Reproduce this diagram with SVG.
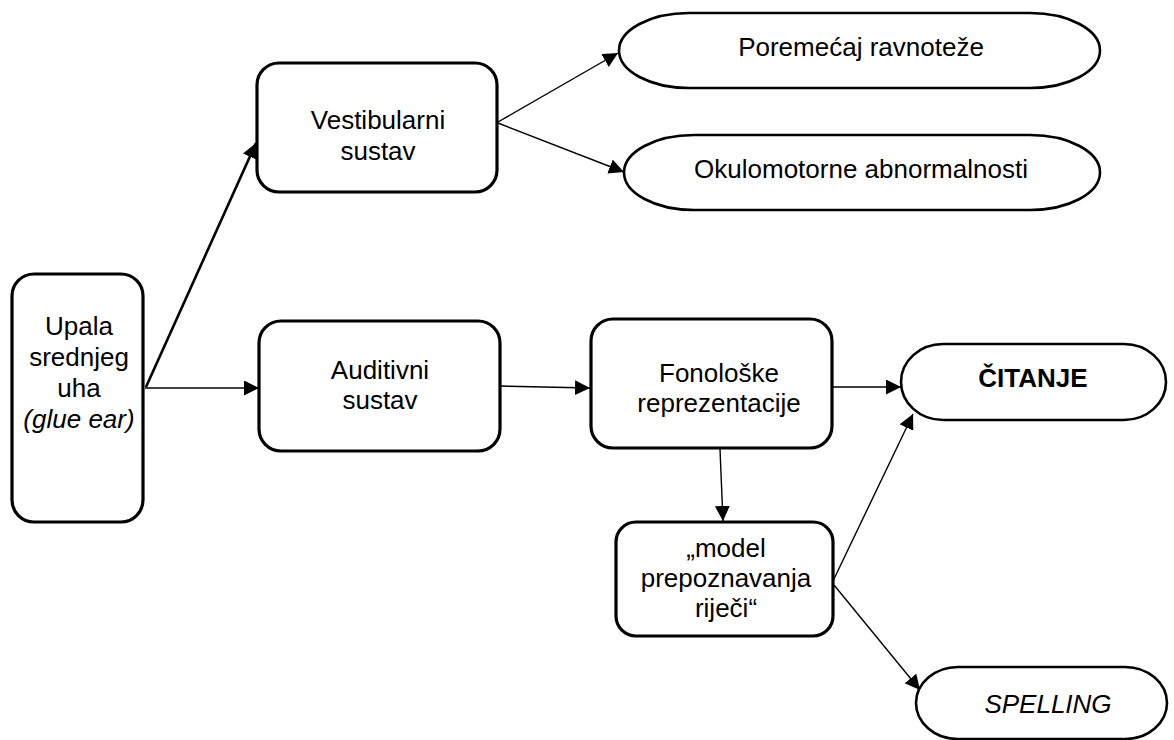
<svg xmlns="http://www.w3.org/2000/svg" width="1174" height="740" viewBox="0 0 1174 740">
<defs>
<style>
.box{fill:#fff;stroke:#000;stroke-width:3.2}
.ell{fill:#fff;stroke:#000;stroke-width:2.6}
.t{font-family:"Liberation Sans",Arial,sans-serif;font-size:26px;fill:#000;text-anchor:middle}
.b{font-weight:bold}
.i{font-style:italic}
.c{fill:none;stroke:#000;stroke-width:1.4;marker-end:url(#ah)}
.thick{stroke-width:2.6}
</style>
<marker id="ah" markerUnits="userSpaceOnUse" markerWidth="16" markerHeight="16" refX="15" refY="7.5" orient="auto" viewBox="0 0 16 16">
<path d="M0,0 L15,7.5 L0,15 z" fill="#000"/>
</marker>
</defs>
<rect width="1174" height="740" fill="#fff"/>
<g id="connectors">
<line class="c thick" x1="146" y1="387" x2="256" y2="143"/>
<line class="c" x1="145" y1="388" x2="259" y2="388"/>
<line class="c" x1="498" y1="122" x2="618" y2="53"/>
<line class="c" x1="498" y1="123" x2="624" y2="172"/>
<line class="c" x1="500" y1="386" x2="590" y2="388"/>
<line class="c" x1="832" y1="387" x2="901" y2="387"/>
<line class="c" x1="720" y1="449" x2="723" y2="521"/>
<line class="c" x1="833" y1="581" x2="913" y2="414"/>
<line class="c" x1="834" y1="585" x2="920" y2="690"/>
</g>
<g id="upala">
<rect class="box" x="12" y="274" width="131" height="248" rx="22"/>
<text class="t" x="79" y="335">Upala</text>
<text class="t" x="79" y="366">srednjeg</text>
<text class="t" x="79" y="397">uha</text>
<text class="t i" x="79" y="428">(glue ear)</text>
</g>
<g id="vestibularni">
<rect class="box" x="257" y="63" width="240" height="129" rx="22"/>
<text class="t" x="378" y="129">Vestibularni</text>
<text class="t" x="378" y="160">sustav</text>
</g>
<g id="ravnoteza">
<rect class="ell" x="619" y="13" width="481" height="75" rx="70" ry="37.5"/>
<text class="t" x="861" y="56">Poremećaj ravnoteže</text>
</g>
<g id="okulomotorne">
<rect class="ell" x="624" y="135" width="476" height="75" rx="70" ry="37.5"/>
<text class="t" x="861" y="178">Okulomotorne abnormalnosti</text>
</g>
<g id="auditivni">
<rect class="box" x="259" y="321" width="241" height="130" rx="22"/>
<text class="t" x="380" y="379">Auditivni</text>
<text class="t" x="380" y="409">sustav</text>
</g>
<g id="fonoloske">
<rect class="box" x="591" y="319" width="241" height="129" rx="22"/>
<text class="t" x="719" y="382">Fonološke</text>
<text class="t" x="719" y="412">reprezentacije</text>
</g>
<g id="citanje">
<rect class="ell" x="901" y="344" width="265" height="76" rx="42" ry="38"/>
<text class="t b" x="1033" y="387">ČITANJE</text>
</g>
<g id="model">
<rect class="box" x="616" y="522" width="217" height="114" rx="20"/>
<text class="t" x="726" y="557">„model</text>
<text class="t" x="726" y="587">prepoznavanja</text>
<text class="t" x="726" y="617">riječi“</text>
</g>
<g id="spelling">
<rect class="ell" x="916" y="667" width="251" height="72" rx="42" ry="36"/>
<text class="t i" x="1048" y="713">SPELLING</text>
</g>
</svg>
